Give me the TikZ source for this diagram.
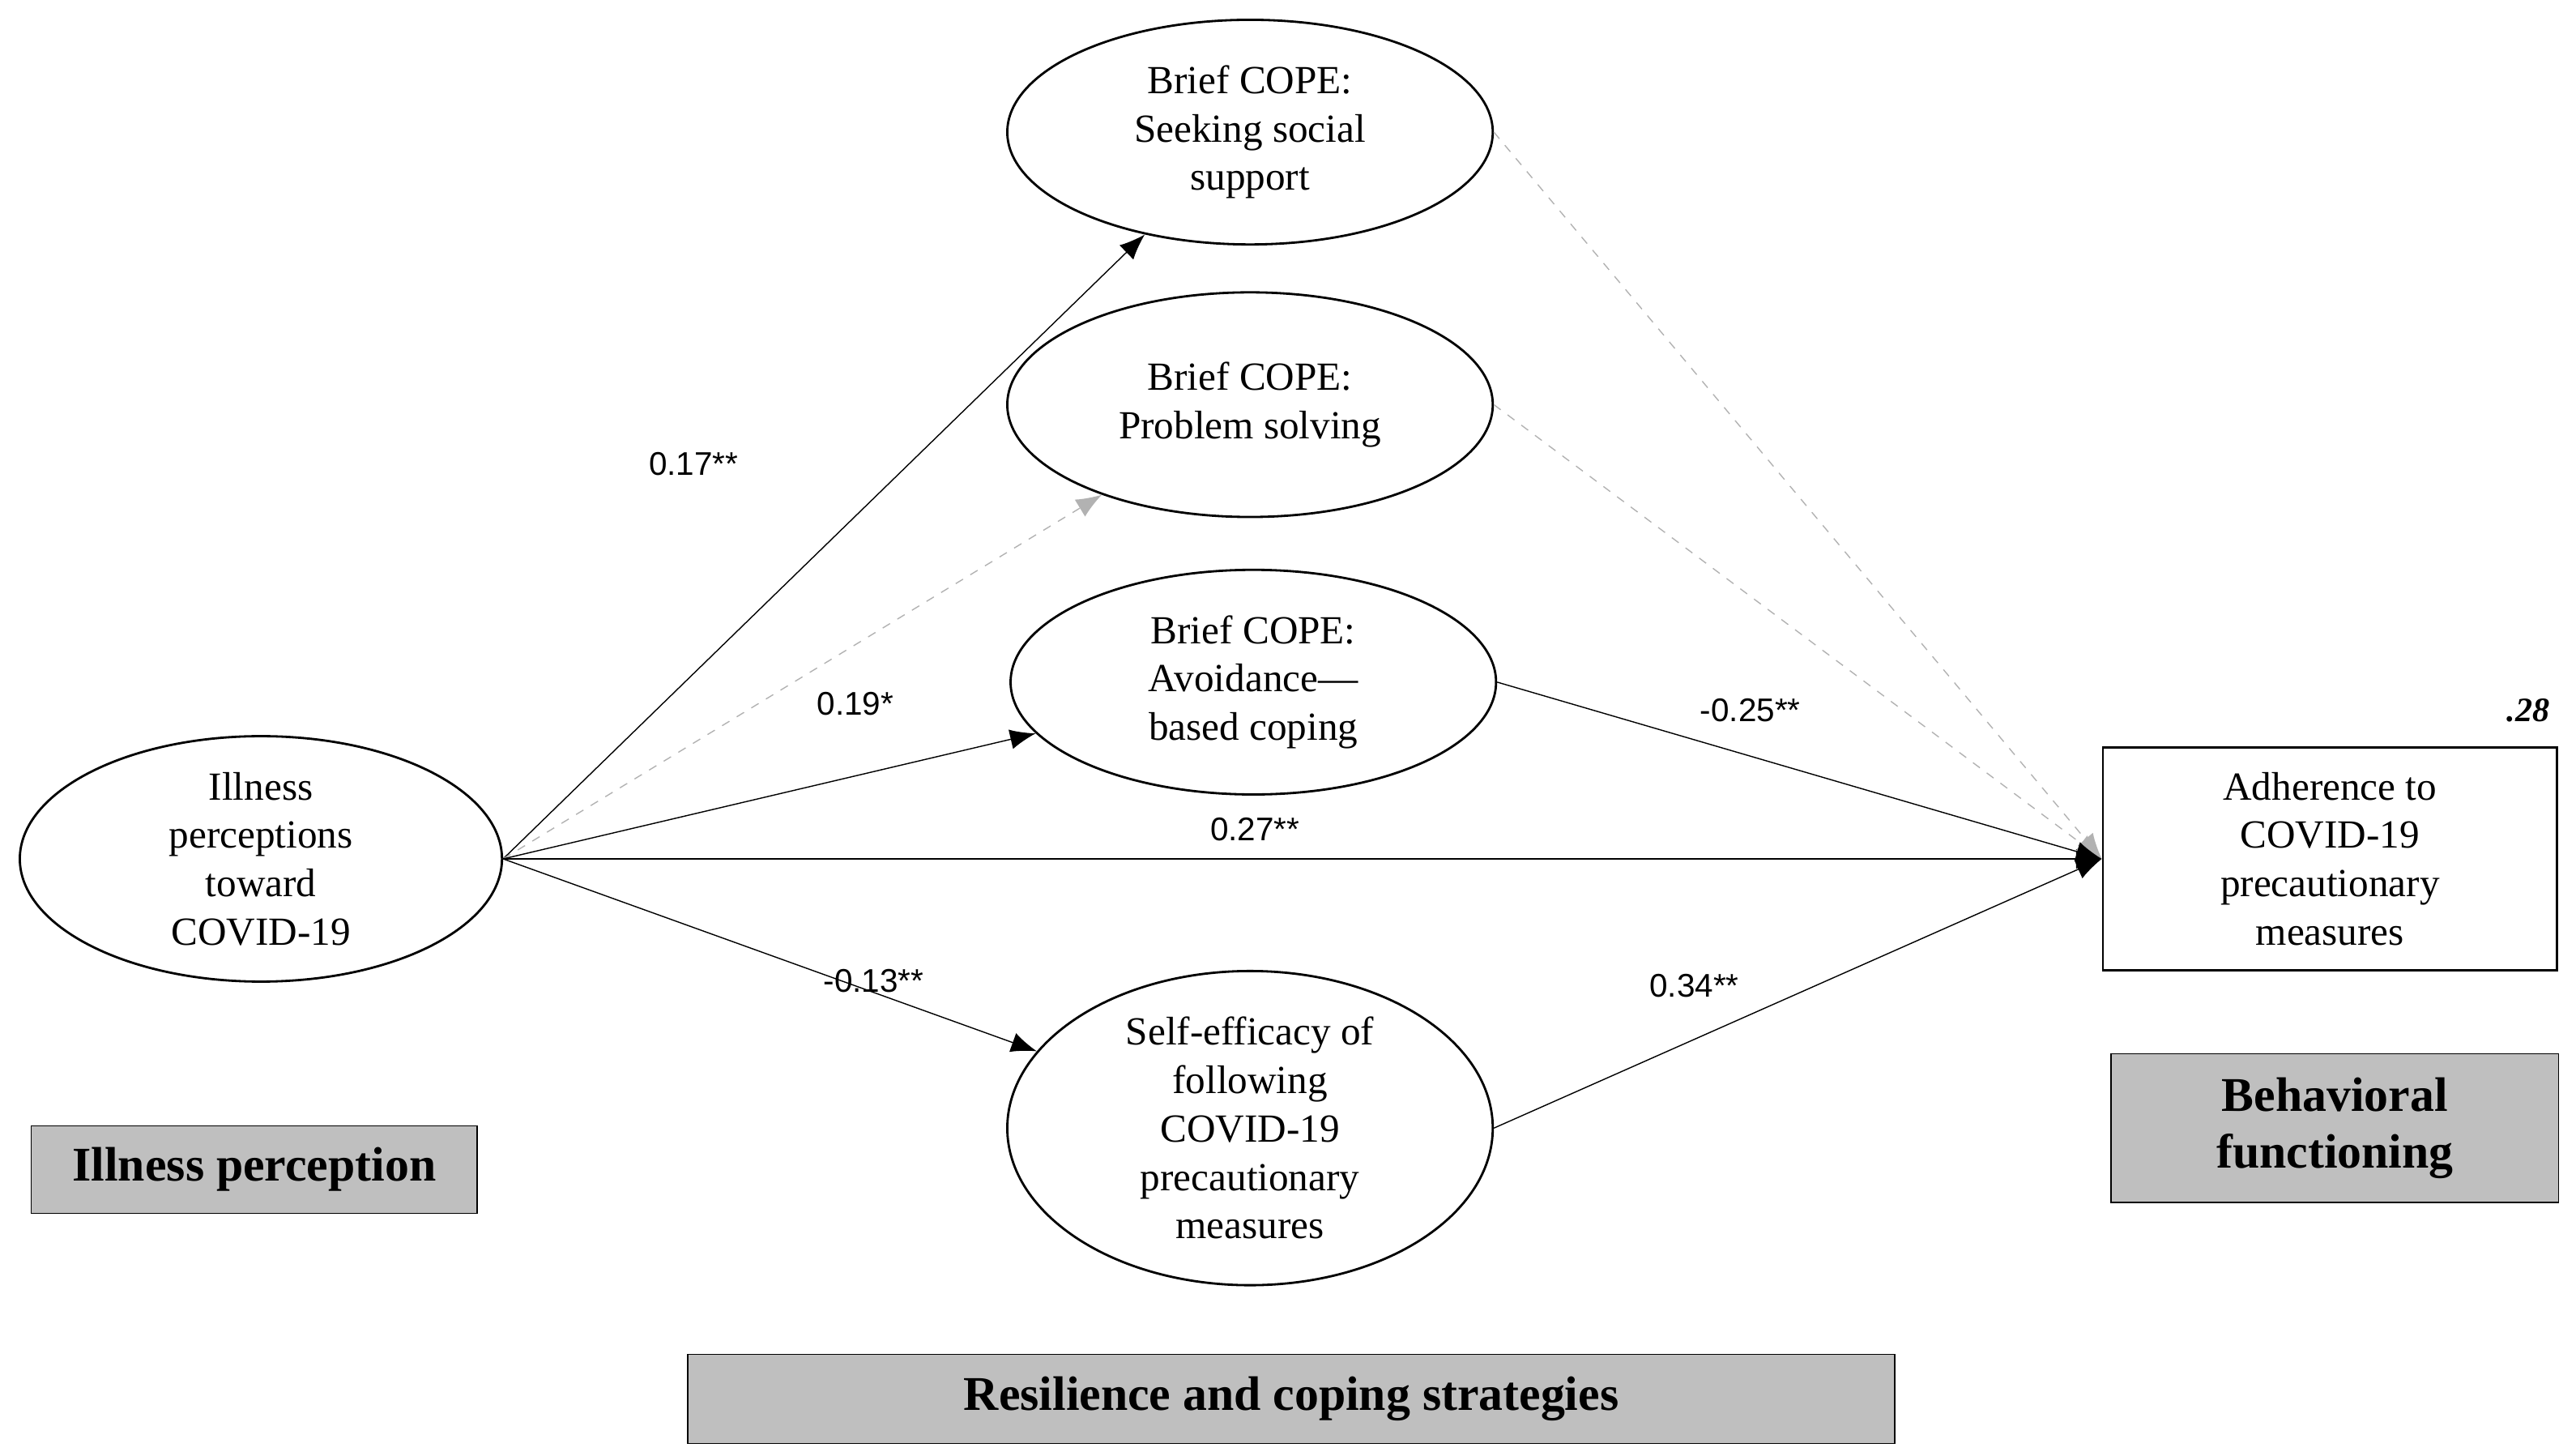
\documentclass[tikz,border=0pt]{standalone}
\usepackage{fontspec}
\setmainfont{Liberation Serif}
\newfontfamily\labfont{Liberation Sans}
\usetikzlibrary{shapes.geometric,arrows.meta}

\begin{document}
\begin{tikzpicture}[x=0.2038mm,y=-0.2038mm,>={Latex[length=9pt,width=7pt]},
    var/.style={draw,thick,ellipse,align=center,font=\fontsize{14}{17}\selectfont,inner sep=0pt},
    domainbox/.style={draw,fill=gray!50,align=center,font=\bfseries\fontsize{17}{20}\selectfont},
    coef/.style={font=\labfont\fontsize{11.5}{13}\selectfont},
    ns/.style={gray!60,dashed}]
    \def\u{0.2038mm}
    \useasboundingbox (0,0) rectangle (1560,879);

    % Variables
    \node[var,minimum width=292*\u,minimum height=134*\u] (ill) at (158,520) {Illness\\perceptions\\toward\\COVID-19};
    \node[var,minimum width=294*\u,minimum height=136*\u] (sss) at (757,80) {Brief COPE:\\Seeking social\\support};
    \node[var,minimum width=294*\u,minimum height=136*\u] (ps) at (757,245) {Brief COPE:\\Problem solving};
    \node[var,minimum width=294*\u,minimum height=136*\u] (avd) at (759,413) {Brief COPE:\\Avoidance---\\based coping};
    \node[var,minimum width=294*\u,minimum height=168*\u] (se) at (757,683) {Self-efficacy of\\following\\COVID-19\\precautionary\\measures};
    \node[draw,thick,align=center,font=\fontsize{14}{17}\selectfont,minimum width=275*\u,minimum height=135*\u] (adh) at (1411,520) {Adherence to\\COVID-19\\precautionary\\measures};
    \node[font=\bfseries\itshape\fontsize{12}{14}\selectfont,anchor=east] (rsq) at (1550,430) {.28};

    % Domains
    \node[domainbox,minimum width=270*\u,minimum height=53*\u] (dil) at (154,708) {Illness perception};
    \node[domainbox,minimum width=271*\u,minimum height=90*\u] (dbf) at (1414,683) {Behavioral\\functioning};
    \node[domainbox,minimum width=731*\u,minimum height=54*\u] (drc) at (782,847) {Resilience and coping strategies};

    % Paths
    \draw[->] (ill.east) -- (sss);
    \draw[->,ns] (ill.east) -- (ps);
    \draw[->] (ill.east) -- (avd);
    \draw[->] (ill.east) -- (se);
    \draw[->] (ill.east) -- (adh.west);
    \draw[->,ns] (sss.east) -- (adh.west);
    \draw[->,ns] (ps.east) -- (adh.west);
    \draw[->] (avd.east) -- (adh.west);
    \draw[->] (se.east) -- (adh.west);

    % Coefficients
    \node[coef] (c1) at (420,281) {0.17**};
    \node[coef] (c2) at (518,426) {0.19*};
    \node[coef] (c3) at (529,594) {-0.13**};
    \node[coef] (c4) at (760,502) {0.27**};
    \node[coef] (c5) at (1060,430) {-0.25**};
    \node[coef] (c6) at (1026,597) {0.34**};
\end{tikzpicture}
\end{document}
